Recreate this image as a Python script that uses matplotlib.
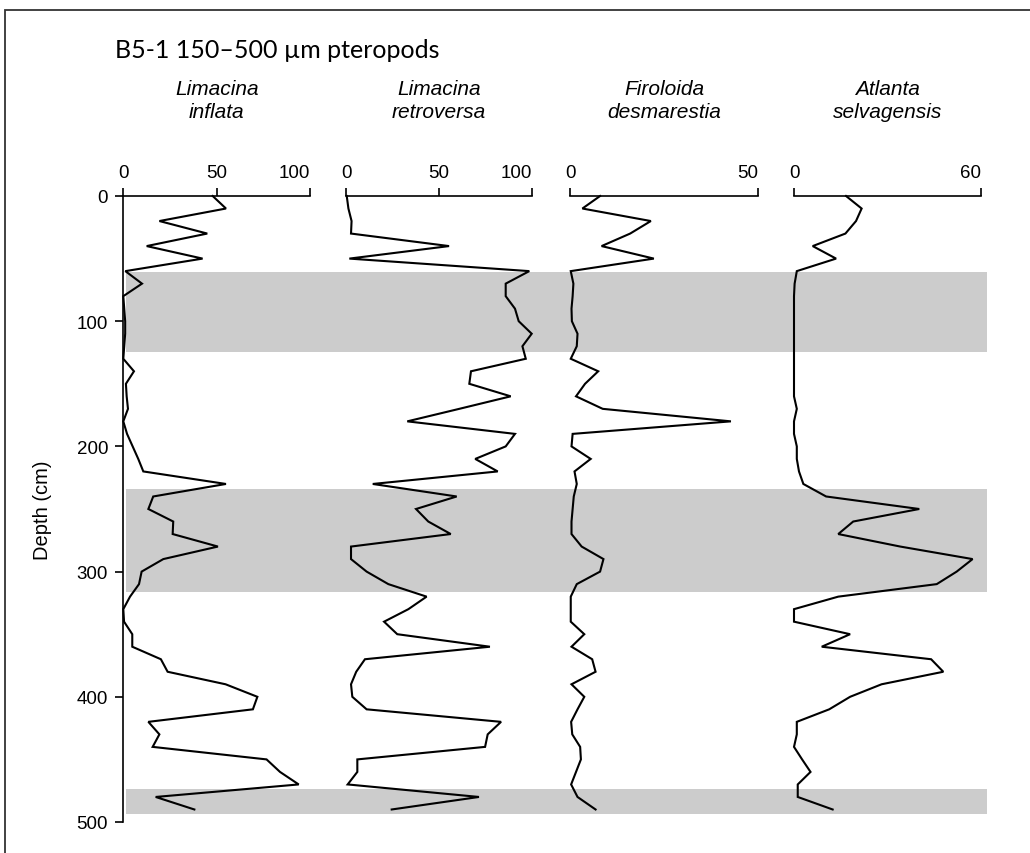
import matplotlib
matplotlib.use("Agg")
import matplotlib.pyplot as plt
from matplotlib.patches import Rectangle

# Sample depths (cm), one every 10 cm
depth = list(range(0, 500, 10))

limacina_inflata = [
    47.8, 54.9, 19.3, 44.9, 12.5, 42.4, 1.1, 10.0, 0.0, 0.5,
    1.0, 1.0, 0.5, 0.0, 5.7, 1.4, 1.8, 2.5, 0.0, 2.0,
    5.0, 8.0, 10.7, 54.9, 16.0, 13.4, 26.7, 26.4, 50.6, 21.4,
    9.8, 8.4, 3.6, 0.0, 0.4, 4.8, 4.8, 20.1, 23.7, 54.7,
    71.7, 69.3, 13.4, 19.3, 15.7, 76.6, 83.8, 93.8, 17.3, 38.0,
]
limacina_retroversa = [
    0.4, 1.3, 3.0, 2.7, 55.5, 1.8, 98.7, 86.0, 86.0, 91.0,
    93.0, 100.0, 95.0, 96.8, 67.3, 66.4, 88.7, 61.0, 33.0, 91.0,
    86.0, 69.6, 81.7, 14.4, 59.6, 37.7, 44.3, 56.4, 2.7, 2.7,
    11.1, 22.8, 43.4, 33.6, 20.5, 27.6, 77.5, 10.2, 5.5, 2.7,
    3.4, 11.1, 83.5, 76.3, 74.9, 6.1, 6.1, 0.9, 71.6, 24.6,
]
firoloida_desmarestia = [
    8.0, 3.3, 21.5, 16.0, 8.4, 22.3, 0.2, 0.9, 0.7, 0.4,
    0.5, 2.0, 1.8, 0.2, 7.5, 4.0, 1.6, 8.7, 42.8, 0.7,
    0.4, 5.5, 1.2, 1.8, 1.0, 0.7, 0.4, 0.4, 3.1, 8.9,
    8.0, 1.8, 0.2, 0.2, 0.2, 3.8, 0.4, 5.9, 6.8, 0.4,
    3.8, 2.0, 0.3, 0.6, 2.7, 2.9, 1.6, 0.3, 2.0, 6.8,
]
atlanta_selvagensis = [
    16.7, 21.7, 19.9, 16.5, 6.0, 13.5, 0.9, 0.2, 0.0, 0.0,
    0.0, 0.0, 0.0, 0.0, 0.0, 0.0, 0.0, 0.9, 0.0, 0.0,
    0.9, 0.9, 1.6, 3.0, 10.3, 40.2, 19.0, 14.2, 34.1, 57.3,
    52.2, 45.8, 14.2, 0.0, 0.0, 18.0, 8.9, 44.0, 47.9, 28.1,
    18.0, 11.3, 0.9, 0.9, 0.0, 2.6, 5.3, 1.2, 1.2, 12.4,
]

species = ["Limacina\ninflata", "Limacina\nretroversa",
           "Firoloida\ndesmarestia", "Atlanta\nselvagensis"]
series = [limacina_inflata, limacina_retroversa,
          firoloida_desmarestia, atlanta_selvagensis]
x_max = [100, 100, 50, 60]
x_ticks = [[0, 50, 100], [0, 50, 100], [0, 50], [0, 60]]

# Shaded depth intervals (cm)
band_top = [61, 234, 474]
band_bottom = [125, 316, 494]

depth_ticks = [0, 100, 200, 300, 400, 500]

W, H = 1030, 854
fig = plt.figure(figsize=(W / 100, H / 100), dpi=100)
plt.rcParams['font.family'] = ['Liberation Sans', 'DejaVu Sans']


def fig_box(x0, x1, y0, y1):
    return [x0 / W, 1 - y1 / H, (x1 - x0) / W, (y1 - y0) / H]


y_top, y_bot = 197, 823
panel_x = [(123.3, 310.3), (346, 531.7), (570, 758), (794, 981)]

# Background axes carrying the grey bands across all panels
bg = fig.add_axes(fig_box(126, 987, y_top, y_bot))
bg.set_xlim(0, 1)
bg.set_ylim(500, 0)
for t, b in zip(band_top, band_bottom):
    bg.axhspan(t, b, color="#cccccc", lw=0)
bg.axis("off")

for i, (vals, name, xm, xt) in enumerate(zip(series, species, x_max, x_ticks)):
    x0, x1 = panel_x[i]
    ax = fig.add_axes(fig_box(x0, x1, y_top, y_bot))
    ax.patch.set_alpha(0)
    ax.plot(vals, depth, color="black", lw=1.5, clip_on=False,
            solid_joinstyle="miter")
    ax.set_xlim(0, xm)
    ax.set_ylim(500, 0)
    ax.xaxis.tick_top()
    ax.set_xticks(xt)
    ax.set_xticklabels([str(v) for v in xt])
    ax.tick_params(axis="x", direction="out", length=6, width=1.2,
                   labelsize=13.5, pad=5)
    # keep the last label inside the axis span
    ax.get_xticklabels()[-1].set_horizontalalignment("right")
    for s in ["right", "bottom"]:
        ax.spines[s].set_visible(False)
    ax.spines["top"].set_linewidth(1.2)
    if i == 0:
        ax.spines["left"].set_linewidth(1.2)
        ax.set_yticks(depth_ticks)
        ax.tick_params(axis="y", direction="out", length=6, width=1.2,
                       labelsize=13.5, pad=5)
        ax.set_ylabel("Depth (cm)", fontsize=14.5, labelpad=18)
    else:
        ax.spines["left"].set_visible(False)
        ax.set_yticks([])
    cx = (x0 + x1) / 2
    fig.text(cx / W, 1 - 101 / H, name, ha="center", va="center",
             fontsize=15, style="italic", linespacing=1.3)

fig.text(115 / W, 1 - 50 / H, "B5-1 150\u2013500 \u00b5m pteropods",
         ha="left", va="center", fontsize=18, family=["Lato", "DejaVu Sans"])

# Outer frame
fig.patches.append(Rectangle((4.5 / W, -0.1), 1.2, 1 - 10.5 / H + 0.1,
                             transform=fig.transFigure, fill=False,
                             edgecolor="#333333", lw=1.3))

fig.savefig("out.png", dpi=100)
